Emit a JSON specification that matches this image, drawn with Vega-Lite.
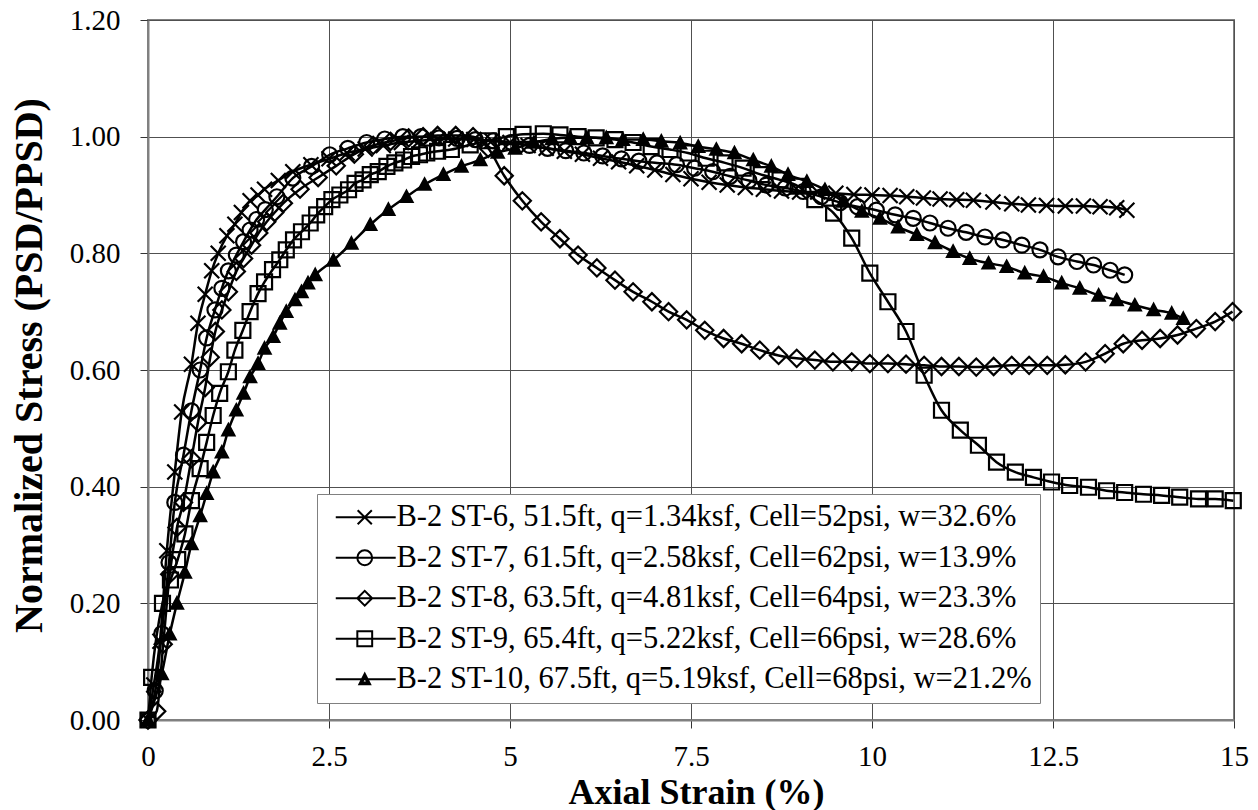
{
  "$schema": "https://vega.github.io/schema/vega-lite/v6.json",
  "width": 1086,
  "height": 700,
  "autosize": {"type": "none"},
  "padding": {"left": 148, "top": 20, "right": 24, "bottom": 90},
  "background": "white",
  "config": {
    "view": {"stroke": "#808080", "strokeWidth": 2},
    "font": "Liberation Serif",
    "axis": {
      "labelFont": "Liberation Serif",
      "labelFontSize": 29,
      "labelColor": "black",
      "titleFont": "Liberation Serif",
      "titleFontWeight": "bold",
      "titleColor": "black",
      "tickSize": 8,
      "tickColor": "#333333",
      "tickWidth": 1,
      "domainColor": "#808080",
      "domainWidth": 2,
      "gridColor": "#505050",
      "gridWidth": 1,
      "labelFlush": false,
      "labelOverlap": false
    }
  },
  "datasets": {
    "names": [
      {"id": "ST-6", "name": "B-2 ST-6, 51.5ft, q=1.34ksf, Cell=52psi, w=32.6%"},
      {"id": "ST-7", "name": "B-2 ST-7, 61.5ft, q=2.58ksf, Cell=62psi, w=13.9%"},
      {"id": "ST-8", "name": "B-2 ST-8, 63.5ft, q=4.81ksf, Cell=64psi, w=23.3%"},
      {"id": "ST-9", "name": "B-2 ST-9, 65.4ft, q=5.22ksf, Cell=66psi, w=28.6%"},
      {"id": "ST-10", "name": "B-2 ST-10, 67.5ft, q=5.19ksf, Cell=68psi, w=21.2%"}
    ]
  },
  "data": {
    "values": [
      {"id":"ST-6","x":0,"y":0},{"id":"ST-6","x":0.08,"y":0.06},{"id":"ST-6","x":0.165,"y":0.135},{"id":"ST-6","x":0.26,"y":0.29},{"id":"ST-6","x":0.37,"y":0.425},{"id":"ST-6","x":0.465,"y":0.528},{"id":"ST-6","x":0.6,"y":0.61},{"id":"ST-6","x":0.69,"y":0.68},{"id":"ST-6","x":0.79,"y":0.73},{"id":"ST-6","x":0.88,"y":0.77},{"id":"ST-6","x":0.97,"y":0.8},{"id":"ST-6","x":1.09,"y":0.83},{"id":"ST-6","x":1.2,"y":0.85},{"id":"ST-6","x":1.29,"y":0.87},{"id":"ST-6","x":1.41,"y":0.89},{"id":"ST-6","x":1.52,"y":0.9},{"id":"ST-6","x":1.61,"y":0.91},{"id":"ST-6","x":1.8,"y":0.925},{"id":"ST-6","x":2.0,"y":0.94},{"id":"ST-6","x":2.25,"y":0.952},{"id":"ST-6","x":2.5,"y":0.962},{"id":"ST-6","x":2.75,"y":0.972},{"id":"ST-6","x":3.0,"y":0.979},{"id":"ST-6","x":3.25,"y":0.985},{"id":"ST-6","x":3.5,"y":0.99},{"id":"ST-6","x":3.75,"y":0.993},{"id":"ST-6","x":4.0,"y":0.995},{"id":"ST-6","x":4.25,"y":0.996},{"id":"ST-6","x":4.5,"y":0.995},{"id":"ST-6","x":4.75,"y":0.993},{"id":"ST-6","x":5.0,"y":0.99},{"id":"ST-6","x":5.25,"y":0.985},{"id":"ST-6","x":5.5,"y":0.98},{"id":"ST-6","x":5.75,"y":0.975},{"id":"ST-6","x":6.0,"y":0.97},{"id":"ST-6","x":6.25,"y":0.963},{"id":"ST-6","x":6.5,"y":0.957},{"id":"ST-6","x":6.75,"y":0.95},{"id":"ST-6","x":7.0,"y":0.943},{"id":"ST-6","x":7.25,"y":0.935},{"id":"ST-6","x":7.5,"y":0.928},{"id":"ST-6","x":7.75,"y":0.922},{"id":"ST-6","x":8.0,"y":0.917},{"id":"ST-6","x":8.25,"y":0.913},{"id":"ST-6","x":8.5,"y":0.91},{"id":"ST-6","x":8.75,"y":0.907},{"id":"ST-6","x":9.0,"y":0.905},{"id":"ST-6","x":9.25,"y":0.905},{"id":"ST-6","x":9.5,"y":0.903},{"id":"ST-6","x":9.75,"y":0.901},{"id":"ST-6","x":10.0,"y":0.9},{"id":"ST-6","x":10.25,"y":0.899},{"id":"ST-6","x":10.48,"y":0.897},{"id":"ST-6","x":10.71,"y":0.895},{"id":"ST-6","x":10.94,"y":0.893},{"id":"ST-6","x":11.17,"y":0.892},{"id":"ST-6","x":11.4,"y":0.891},{"id":"ST-6","x":11.67,"y":0.888},{"id":"ST-6","x":11.93,"y":0.885},{"id":"ST-6","x":12.16,"y":0.883},{"id":"ST-6","x":12.41,"y":0.882},{"id":"ST-6","x":12.67,"y":0.881},{"id":"ST-6","x":12.92,"y":0.881},{"id":"ST-6","x":13.15,"y":0.88},{"id":"ST-6","x":13.38,"y":0.878},{"id":"ST-6","x":13.52,"y":0.874},
      {"id":"ST-7","x":0,"y":0},{"id":"ST-7","x":0.1,"y":0.05},{"id":"ST-7","x":0.19,"y":0.148},{"id":"ST-7","x":0.29,"y":0.27},{"id":"ST-7","x":0.37,"y":0.373},{"id":"ST-7","x":0.49,"y":0.454},{"id":"ST-7","x":0.6,"y":0.53},{"id":"ST-7","x":0.72,"y":0.6},{"id":"ST-7","x":0.81,"y":0.655},{"id":"ST-7","x":0.925,"y":0.703},{"id":"ST-7","x":1.02,"y":0.74},{"id":"ST-7","x":1.11,"y":0.77},{"id":"ST-7","x":1.22,"y":0.797},{"id":"ST-7","x":1.32,"y":0.82},{"id":"ST-7","x":1.41,"y":0.84},{"id":"ST-7","x":1.5,"y":0.858},{"id":"ST-7","x":1.62,"y":0.875},{"id":"ST-7","x":1.78,"y":0.897},{"id":"ST-7","x":2.0,"y":0.929},{"id":"ST-7","x":2.26,"y":0.949},{"id":"ST-7","x":2.51,"y":0.969},{"id":"ST-7","x":2.76,"y":0.98},{"id":"ST-7","x":3.02,"y":0.99},{"id":"ST-7","x":3.27,"y":0.996},{"id":"ST-7","x":3.52,"y":1.0},{"id":"ST-7","x":3.77,"y":1.0},{"id":"ST-7","x":4.02,"y":0.998},{"id":"ST-7","x":4.27,"y":0.997},{"id":"ST-7","x":4.52,"y":0.995},{"id":"ST-7","x":4.77,"y":0.993},{"id":"ST-7","x":5.02,"y":0.99},{"id":"ST-7","x":5.27,"y":0.985},{"id":"ST-7","x":5.52,"y":0.98},{"id":"ST-7","x":5.77,"y":0.976},{"id":"ST-7","x":6.02,"y":0.972},{"id":"ST-7","x":6.28,"y":0.967},{"id":"ST-7","x":6.54,"y":0.962},{"id":"ST-7","x":6.78,"y":0.958},{"id":"ST-7","x":7.03,"y":0.955},{"id":"ST-7","x":7.3,"y":0.952},{"id":"ST-7","x":7.55,"y":0.946},{"id":"ST-7","x":7.8,"y":0.94},{"id":"ST-7","x":8.04,"y":0.932},{"id":"ST-7","x":8.3,"y":0.925},{"id":"ST-7","x":8.54,"y":0.917},{"id":"ST-7","x":8.8,"y":0.912},{"id":"ST-7","x":9.05,"y":0.906},{"id":"ST-7","x":9.3,"y":0.897},{"id":"ST-7","x":9.56,"y":0.887},{"id":"ST-7","x":9.8,"y":0.88},{"id":"ST-7","x":10.06,"y":0.874},{"id":"ST-7","x":10.32,"y":0.866},{"id":"ST-7","x":10.57,"y":0.86},{"id":"ST-7","x":10.8,"y":0.852},{"id":"ST-7","x":11.05,"y":0.843},{"id":"ST-7","x":11.3,"y":0.836},{"id":"ST-7","x":11.56,"y":0.828},{"id":"ST-7","x":11.81,"y":0.823},{"id":"ST-7","x":12.07,"y":0.814},{"id":"ST-7","x":12.32,"y":0.806},{"id":"ST-7","x":12.57,"y":0.794},{"id":"ST-7","x":12.83,"y":0.786},{"id":"ST-7","x":13.06,"y":0.78},{"id":"ST-7","x":13.29,"y":0.771},{"id":"ST-7","x":13.49,"y":0.763},
      {"id":"ST-8","x":0,"y":0},{"id":"ST-8","x":0.12,"y":0.015},{"id":"ST-8","x":0.21,"y":0.13},{"id":"ST-8","x":0.3,"y":0.25},{"id":"ST-8","x":0.4,"y":0.33},{"id":"ST-8","x":0.49,"y":0.373},{"id":"ST-8","x":0.6,"y":0.448},{"id":"ST-8","x":0.69,"y":0.51},{"id":"ST-8","x":0.79,"y":0.57},{"id":"ST-8","x":0.86,"y":0.622},{"id":"ST-8","x":0.93,"y":0.666},{"id":"ST-8","x":1.02,"y":0.703},{"id":"ST-8","x":1.11,"y":0.734},{"id":"ST-8","x":1.22,"y":0.769},{"id":"ST-8","x":1.32,"y":0.791},{"id":"ST-8","x":1.43,"y":0.814},{"id":"ST-8","x":1.53,"y":0.835},{"id":"ST-8","x":1.64,"y":0.854},{"id":"ST-8","x":1.75,"y":0.87},{"id":"ST-8","x":1.87,"y":0.886},{"id":"ST-8","x":2.1,"y":0.91},{"id":"ST-8","x":2.35,"y":0.93},{"id":"ST-8","x":2.6,"y":0.95},{"id":"ST-8","x":2.85,"y":0.97},{"id":"ST-8","x":3.11,"y":0.985},{"id":"ST-8","x":3.35,"y":0.992},{"id":"ST-8","x":3.6,"y":0.998},{"id":"ST-8","x":3.8,"y":1.0},{"id":"ST-8","x":4.0,"y":1.002},{"id":"ST-8","x":4.25,"y":1.002},{"id":"ST-8","x":4.49,"y":1.0},{"id":"ST-8","x":4.7,"y":0.98},{"id":"ST-8","x":4.92,"y":0.933},{"id":"ST-8","x":5.17,"y":0.89},{"id":"ST-8","x":5.43,"y":0.854},{"id":"ST-8","x":5.69,"y":0.825},{"id":"ST-8","x":5.94,"y":0.797},{"id":"ST-8","x":6.2,"y":0.775},{"id":"ST-8","x":6.45,"y":0.754},{"id":"ST-8","x":6.7,"y":0.734},{"id":"ST-8","x":6.96,"y":0.717},{"id":"ST-8","x":7.19,"y":0.7},{"id":"ST-8","x":7.44,"y":0.686},{"id":"ST-8","x":7.69,"y":0.668},{"id":"ST-8","x":7.95,"y":0.654},{"id":"ST-8","x":8.2,"y":0.645},{"id":"ST-8","x":8.45,"y":0.634},{"id":"ST-8","x":8.71,"y":0.625},{"id":"ST-8","x":8.96,"y":0.62},{"id":"ST-8","x":9.21,"y":0.617},{"id":"ST-8","x":9.46,"y":0.614},{"id":"ST-8","x":9.72,"y":0.614},{"id":"ST-8","x":9.97,"y":0.611},{"id":"ST-8","x":10.22,"y":0.611},{"id":"ST-8","x":10.47,"y":0.61},{"id":"ST-8","x":10.72,"y":0.608},{"id":"ST-8","x":10.96,"y":0.606},{"id":"ST-8","x":11.2,"y":0.606},{"id":"ST-8","x":11.44,"y":0.605},{"id":"ST-8","x":11.68,"y":0.606},{"id":"ST-8","x":11.93,"y":0.608},{"id":"ST-8","x":12.17,"y":0.608},{"id":"ST-8","x":12.42,"y":0.608},{"id":"ST-8","x":12.67,"y":0.609},{"id":"ST-8","x":12.95,"y":0.614},{"id":"ST-8","x":13.22,"y":0.628},{"id":"ST-8","x":13.47,"y":0.645},{"id":"ST-8","x":13.73,"y":0.651},{"id":"ST-8","x":13.98,"y":0.654},{"id":"ST-8","x":14.22,"y":0.66},{"id":"ST-8","x":14.48,"y":0.671},{"id":"ST-8","x":14.74,"y":0.683},{"id":"ST-8","x":14.98,"y":0.7},
      {"id":"ST-9","x":0,"y":0},{"id":"ST-9","x":0.05,"y":0.073},{"id":"ST-9","x":0.2,"y":0.2},{"id":"ST-9","x":0.31,"y":0.24},{"id":"ST-9","x":0.41,"y":0.275},{"id":"ST-9","x":0.51,"y":0.319},{"id":"ST-9","x":0.6,"y":0.376},{"id":"ST-9","x":0.72,"y":0.431},{"id":"ST-9","x":0.81,"y":0.476},{"id":"ST-9","x":0.9,"y":0.522},{"id":"ST-9","x":0.99,"y":0.56},{"id":"ST-9","x":1.11,"y":0.597},{"id":"ST-9","x":1.2,"y":0.634},{"id":"ST-9","x":1.31,"y":0.668},{"id":"ST-9","x":1.41,"y":0.7},{"id":"ST-9","x":1.52,"y":0.731},{"id":"ST-9","x":1.61,"y":0.751},{"id":"ST-9","x":1.72,"y":0.772},{"id":"ST-9","x":1.82,"y":0.789},{"id":"ST-9","x":1.91,"y":0.806},{"id":"ST-9","x":2.01,"y":0.823},{"id":"ST-9","x":2.12,"y":0.837},{"id":"ST-9","x":2.24,"y":0.852},{"id":"ST-9","x":2.33,"y":0.866},{"id":"ST-9","x":2.44,"y":0.88},{"id":"ST-9","x":2.54,"y":0.892},{"id":"ST-9","x":2.65,"y":0.9},{"id":"ST-9","x":2.77,"y":0.909},{"id":"ST-9","x":2.86,"y":0.92},{"id":"ST-9","x":2.97,"y":0.926},{"id":"ST-9","x":3.07,"y":0.935},{"id":"ST-9","x":3.18,"y":0.94},{"id":"ST-9","x":3.3,"y":0.949},{"id":"ST-9","x":3.41,"y":0.955},{"id":"ST-9","x":3.53,"y":0.96},{"id":"ST-9","x":3.64,"y":0.966},{"id":"ST-9","x":3.75,"y":0.969},{"id":"ST-9","x":3.85,"y":0.972},{"id":"ST-9","x":4.0,"y":0.975},{"id":"ST-9","x":4.19,"y":0.978},{"id":"ST-9","x":4.45,"y":0.986},{"id":"ST-9","x":4.7,"y":0.993},{"id":"ST-9","x":4.95,"y":1.0},{"id":"ST-9","x":5.18,"y":1.004},{"id":"ST-9","x":5.46,"y":1.005},{"id":"ST-9","x":5.69,"y":1.003},{"id":"ST-9","x":5.94,"y":1.0},{"id":"ST-9","x":6.19,"y":0.998},{"id":"ST-9","x":6.45,"y":0.995},{"id":"ST-9","x":6.7,"y":0.99},{"id":"ST-9","x":6.95,"y":0.983},{"id":"ST-9","x":7.21,"y":0.978},{"id":"ST-9","x":7.46,"y":0.972},{"id":"ST-9","x":7.71,"y":0.963},{"id":"ST-9","x":7.97,"y":0.955},{"id":"ST-9","x":8.22,"y":0.946},{"id":"ST-9","x":8.47,"y":0.935},{"id":"ST-9","x":8.73,"y":0.926},{"id":"ST-9","x":8.98,"y":0.915},{"id":"ST-9","x":9.21,"y":0.892},{"id":"ST-9","x":9.47,"y":0.869},{"id":"ST-9","x":9.72,"y":0.826},{"id":"ST-9","x":9.97,"y":0.766},{"id":"ST-9","x":10.22,"y":0.717},{"id":"ST-9","x":10.47,"y":0.666},{"id":"ST-9","x":10.72,"y":0.591},{"id":"ST-9","x":10.96,"y":0.531},{"id":"ST-9","x":11.22,"y":0.497},{"id":"ST-9","x":11.47,"y":0.471},{"id":"ST-9","x":11.72,"y":0.442},{"id":"ST-9","x":11.98,"y":0.425},{"id":"ST-9","x":12.23,"y":0.416},{"id":"ST-9","x":12.48,"y":0.408},{"id":"ST-9","x":12.73,"y":0.402},{"id":"ST-9","x":12.99,"y":0.399},{"id":"ST-9","x":13.24,"y":0.393},{"id":"ST-9","x":13.49,"y":0.39},{"id":"ST-9","x":13.75,"y":0.387},{"id":"ST-9","x":14.0,"y":0.385},{"id":"ST-9","x":14.25,"y":0.382},{"id":"ST-9","x":14.51,"y":0.379},{"id":"ST-9","x":14.74,"y":0.379},{"id":"ST-9","x":14.99,"y":0.376},
      {"id":"ST-10","x":0,"y":0},{"id":"ST-10","x":0.19,"y":0.079},{"id":"ST-10","x":0.3,"y":0.147},{"id":"ST-10","x":0.4,"y":0.2},{"id":"ST-10","x":0.51,"y":0.253},{"id":"ST-10","x":0.6,"y":0.302},{"id":"ST-10","x":0.72,"y":0.35},{"id":"ST-10","x":0.81,"y":0.388},{"id":"ST-10","x":0.9,"y":0.425},{"id":"ST-10","x":1.02,"y":0.459},{"id":"ST-10","x":1.11,"y":0.497},{"id":"ST-10","x":1.22,"y":0.531},{"id":"ST-10","x":1.32,"y":0.56},{"id":"ST-10","x":1.41,"y":0.588},{"id":"ST-10","x":1.52,"y":0.611},{"id":"ST-10","x":1.61,"y":0.637},{"id":"ST-10","x":1.73,"y":0.657},{"id":"ST-10","x":1.82,"y":0.68},{"id":"ST-10","x":1.91,"y":0.7},{"id":"ST-10","x":2.03,"y":0.72},{"id":"ST-10","x":2.12,"y":0.734},{"id":"ST-10","x":2.21,"y":0.749},{"id":"ST-10","x":2.31,"y":0.763},{"id":"ST-10","x":2.56,"y":0.788},{"id":"ST-10","x":2.81,"y":0.817},{"id":"ST-10","x":3.07,"y":0.849},{"id":"ST-10","x":3.32,"y":0.875},{"id":"ST-10","x":3.57,"y":0.897},{"id":"ST-10","x":3.82,"y":0.918},{"id":"ST-10","x":4.08,"y":0.935},{"id":"ST-10","x":4.33,"y":0.949},{"id":"ST-10","x":4.59,"y":0.96},{"id":"ST-10","x":4.83,"y":0.973},{"id":"ST-10","x":5.07,"y":0.98},{"id":"ST-10","x":5.33,"y":0.99},{"id":"ST-10","x":5.58,"y":0.996},{"id":"ST-10","x":5.83,"y":0.998},{"id":"ST-10","x":6.06,"y":0.998},{"id":"ST-10","x":6.33,"y":0.998},{"id":"ST-10","x":6.56,"y":0.995},{"id":"ST-10","x":6.84,"y":0.995},{"id":"ST-10","x":7.09,"y":0.992},{"id":"ST-10","x":7.35,"y":0.989},{"id":"ST-10","x":7.6,"y":0.983},{"id":"ST-10","x":7.85,"y":0.978},{"id":"ST-10","x":8.1,"y":0.972},{"id":"ST-10","x":8.36,"y":0.96},{"id":"ST-10","x":8.61,"y":0.949},{"id":"ST-10","x":8.84,"y":0.935},{"id":"ST-10","x":9.1,"y":0.923},{"id":"ST-10","x":9.35,"y":0.909},{"id":"ST-10","x":9.6,"y":0.889},{"id":"ST-10","x":9.86,"y":0.872},{"id":"ST-10","x":10.11,"y":0.86},{"id":"ST-10","x":10.36,"y":0.845},{"id":"ST-10","x":10.62,"y":0.832},{"id":"ST-10","x":10.87,"y":0.818},{"id":"ST-10","x":11.12,"y":0.803},{"id":"ST-10","x":11.35,"y":0.791},{"id":"ST-10","x":11.61,"y":0.783},{"id":"ST-10","x":11.86,"y":0.777},{"id":"ST-10","x":12.11,"y":0.766},{"id":"ST-10","x":12.37,"y":0.76},{"id":"ST-10","x":12.62,"y":0.749},{"id":"ST-10","x":12.87,"y":0.74},{"id":"ST-10","x":13.13,"y":0.728},{"id":"ST-10","x":13.38,"y":0.72},{"id":"ST-10","x":13.63,"y":0.711},{"id":"ST-10","x":13.89,"y":0.703},{"id":"ST-10","x":14.14,"y":0.697},{"id":"ST-10","x":14.3,"y":0.688}
    ]
  },
  "transform": [
    {"lookup": "id", "from": {"data": {"name": "names"}, "key": "id", "fields": ["name"]}}
  ],
  "encoding": {
    "x": {
      "field": "x", "type": "quantitative",
      "scale": {"domain": [0, 15], "nice": false, "zero": false},
      "axis": {
        "values": [0, 2.5, 5, 7.5, 10, 12.5, 15],
        "format": ".3~g",
        "title": "Axial Strain (%)",
        "titleFontSize": 36,
        "titleBaseline": "alphabetic",
        "titleAlign": "center",
        "titleX": 548,
        "titleY": 83,
        "labelBaseline": "alphabetic",
        "labelPadding": 37
      }
    },
    "y": {
      "field": "y", "type": "quantitative",
      "scale": {"domain": [0, 1.2], "nice": false},
      "axis": {
        "values": [0, 0.2, 0.4, 0.6, 0.8, 1.0, 1.2],
        "format": ".2f",
        "title": "Normalized Stress (PSD/PPSD)",
        "titleFontSize": 40,
        "titleAngle": -90,
        "titleBaseline": "alphabetic",
        "titleAlign": "center",
        "titleX": -107,
        "titleY": 345,
        "labelPadding": 20
      }
    }
  },
  "resolve": {"scale": {"shape": "independent"}, "legend": {"shape": "independent"}},
  "layer": [
    {
      "mark": {"type": "line", "color": "black", "strokeWidth": 2.5, "interpolate": "monotone"},
      "encoding": {"detail": {"field": "id", "type": "nominal"}}
    },
    {
      "mark": {"type": "point", "filled": false, "opacity": 1, "size": 225, "strokeWidth": 2.2, "color": "black"},
      "encoding": {
        "shape": {
          "field": "name", "type": "nominal",
          "scale": {
            "domain": [
              "B-2 ST-6, 51.5ft, q=1.34ksf, Cell=52psi, w=32.6%",
              "B-2 ST-7, 61.5ft, q=2.58ksf, Cell=62psi, w=13.9%",
              "B-2 ST-8, 63.5ft, q=4.81ksf, Cell=64psi, w=23.3%",
              "B-2 ST-9, 65.4ft, q=5.22ksf, Cell=66psi, w=28.6%",
              "B-2 ST-10, 67.5ft, q=5.19ksf, Cell=68psi, w=21.2%"
            ],
            "range": [
              "M-1,-1L1,1M-1,1L1,-1",
              "circle",
              "M-1.15,0L0,-1.15L1.15,0L0,1.15Z",
              "square",
              "M0,-0.8L0.8,0.7L-0.8,0.7Z"
            ]
          },
          "legend": null
        },
        "fill": {
          "condition": {"test": "datum.id === 'ST-10'", "value": "black"},
          "value": "transparent"
        }
      }
    },
    {
      "transform": [{"filter": "datum.x == 0"}],
      "mark": {"type": "point", "filled": false, "opacity": 0, "size": 200, "strokeWidth": 2, "color": "black"},
      "encoding": {
        "shape": {
          "field": "name", "type": "nominal",
          "scale": {
            "domain": [
              "B-2 ST-6, 51.5ft, q=1.34ksf, Cell=52psi, w=32.6%",
              "B-2 ST-7, 61.5ft, q=2.58ksf, Cell=62psi, w=13.9%",
              "B-2 ST-8, 63.5ft, q=4.81ksf, Cell=64psi, w=23.3%",
              "B-2 ST-9, 65.4ft, q=5.22ksf, Cell=66psi, w=28.6%",
              "B-2 ST-10, 67.5ft, q=5.19ksf, Cell=68psi, w=21.2%"
            ],
            "range": [
              "M-1.06,0L7.42,0M2.04,-1L4.04,1M2.04,1L4.04,-1",
              "M-1.06,0L7.42,0M4.09,0A1.05,1.05,0,1,1,1.99,0A1.05,1.05,0,1,1,4.09,0",
              "M-1.06,0L7.42,0M1.99,0L3.04,-1.05L4.09,0L3.04,1.05Z",
              "M-1.06,0L7.42,0M1.99,-1.05H4.09V1.05H1.99Z",
              "M-1.06,0L7.42,0M3.04,-0.8L3.8,0.7L2.28,0.7ZM3.04,-0.3L3.42,0.45L2.66,0.45Z"
            ]
          },
          "legend": {
            "title": null,
            "orient": "none",
            "legendX": 169,
            "legendY": 474,
            "fillColor": "white",
            "strokeColor": "#808080",
            "padding": 8,
            "rowPadding": 9.5,
            "symbolOffset": 3,
            "labelOffset": 38,
            "labelFont": "Liberation Serif",
            "labelFontSize": 30.5,
            "labelColor": "black",
            "labelLimit": 900,
            "symbolSize": 200,
            "symbolStrokeWidth": 2,
            "symbolStrokeColor": "black",
            "symbolOpacity": 1
          }
        }
      }
    }
  ]
}
